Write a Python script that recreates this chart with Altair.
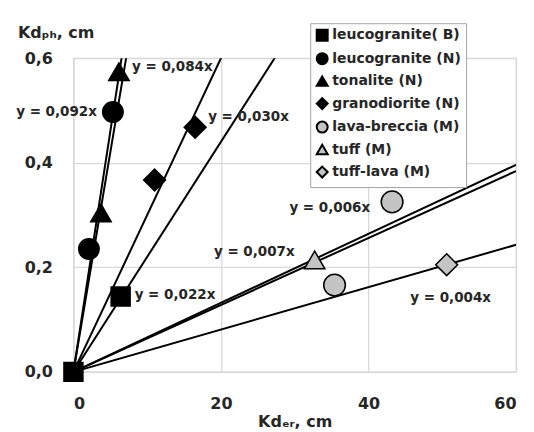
import altair as alt
import pandas as pd

# ---- data ----
series_names = ["leucogranite( B)", "leucogranite (N)", "tonalite (N)", "granodiorite (N)",
                "lava-breccia (M)", "tuff (M)", "tuff-lava (M)"]
series_shapes = ["square", "circle", "triangle-up", "diamond", "circle", "triangle-up", "diamond"]
series_fills = ["black", "black", "black", "black", "#c4c4c4", "#c4c4c4", "#c4c4c4"]
series_strokes = ["black"] * 7
slopes = [0.022, 0.092, 0.084, 0.030, 0.0064, 0.0066, 0.00405]

pt_series = ["leucogranite( B)", "leucogranite( B)", "leucogranite (N)", "leucogranite (N)",
             "tonalite (N)", "tonalite (N)", "granodiorite (N)", "granodiorite (N)",
             "lava-breccia (M)", "lava-breccia (M)", "tuff (M)", "tuff-lava (M)"]
pt_x = [0, 6.4, 2.1, 5.35, 3.73, 6.17, 11.0, 16.5, 35.4, 43.2, 32.7, 50.6]
pt_y = [0, 0.144, 0.235, 0.497, 0.304, 0.574, 0.367, 0.468, 0.166, 0.325, 0.214, 0.205]

eq_text = ["y = 0,084x", "y = 0,092x", "y = 0,030x", "y = 0,022x", "y = 0,007x", "y = 0,006x", "y = 0,004x"]
eq_anchor = [5, 3, 7, 1, 10, 9, 11]          # index of the point each equation sits beside
eq_align = ["left", "right", "left", "left", "right", "right", "center"]
eq_dx = [13, -16, 13, 14, -20, -22, 4]
eq_dy = [-5, 0, -10, -2, -8, 6, 33]

x_ticks = [0, 20, 40, 60]
y_ticks = [0, 0.2, 0.4, 0.6]

FONT = "DejaVu Sans"
TXT = "#262626"

# ---- tables ----
pts = pd.DataFrame({"series": pt_series, "x": pt_x, "y": pt_y})

line_rows = []
for s, k in zip(series_names, slopes):
    line_rows.append({"series": s, "x": 0, "y": 0})
    line_rows.append({"series": s, "x": 60, "y": 60 * k})
lines_df = pd.DataFrame(line_rows)

xscale = alt.Scale(domain=[0, 60], nice=False)
yscale = alt.Scale(domain=[0, 0.6], nice=False)

x_enc = alt.X("x:Q", scale=xscale,
              axis=alt.Axis(values=x_ticks, title="Kdₑᵣ, cm", labelPadding=24,
                            titleY=55, titleBaseline="alphabetic"))
y_enc = alt.Y("y:Q", scale=yscale,
              axis=alt.Axis(values=y_ticks, title="Kdₚₕ, cm", titleAngle=0,
                            titleAlign="left", titleBaseline="alphabetic",
                            titleX=-56, titleY=-21, labelPadding=21,
                            labelExpr="replace(format(datum.value, '.1f'), '.', ',')"))

lines = alt.Chart(lines_df).mark_line(color="black", strokeWidth=2, clip=True).encode(
    x=x_enc, y=y_enc, detail="series:N")

leg = alt.Legend(title=None, orient="none", legendX=237, legendY=-35,
                 labelFont=FONT, labelFontWeight="bold", labelFontSize=14,
                 labelColor=TXT, symbolSize=120, symbolStrokeWidth=2,
                 symbolStrokeColor="black", strokeColor="#a6a6a6",
                 fillColor="white", padding=5, rowPadding=3.5, labelOffset=3)

size_rule = {"condition": [{"test": "indexof(datum.series, 'granite( B)') >= 0", "value": 360},
                           {"test": "indexof(datum.series, 'lava-breccia') >= 0", "value": 470},
                           {"test": "indexof(datum.series, 'granodiorite') >= 0 || indexof(datum.series, 'tuff-lava') >= 0", "value": 480}],
             "value": 420}

points = alt.Chart(pts).mark_point(filled=False, strokeWidth=1.5, opacity=1,
                                   fillOpacity=1).encode(
    x=x_enc, y=y_enc,
    shape=alt.Shape("series:N", scale=alt.Scale(domain=series_names, range=series_shapes), legend=leg),
    fill=alt.Fill("series:N", scale=alt.Scale(domain=series_names, range=series_fills), legend=leg),
    stroke=alt.Stroke("series:N", scale=alt.Scale(domain=series_names, range=series_strokes), legend=leg),
    size=size_rule)

layers = [lines, points]
for t, a, al, dx, dy in zip(eq_text, eq_anchor, eq_align, eq_dx, eq_dy):
    d = pd.DataFrame({"x": [pt_x[a]], "y": [pt_y[a]], "t": [t]})
    layers.append(alt.Chart(d).mark_text(align=al, baseline="middle", dx=dx, dy=dy, font=FONT,
                                         fontWeight="bold", fontSize=13.5, color=TXT).encode(
        x=alt.X("x:Q", scale=xscale), y=alt.Y("y:Q", scale=yscale), text="t:N"))

chart = alt.layer(*layers).properties(
    width=443, height=314,
    autosize=alt.AutoSizeParams(type="none"),
    padding={"left": 65.5, "top": 50, "right": 10, "bottom": 60},
).configure_view(stroke="#d0d0d0", strokeWidth=1.2).configure_axis(
    labelFont=FONT, labelFontWeight="bold", labelFontSize=16, labelColor=TXT,
    titleFont=FONT, titleFontWeight="bold", titleFontSize=16, titleColor=TXT,
    gridColor="#d9d9d9", gridWidth=1.3, domain=False, ticks=False, tickSize=0,
)

chart.save("out.html", embed_options={"renderer": "svg", "actions": False})
